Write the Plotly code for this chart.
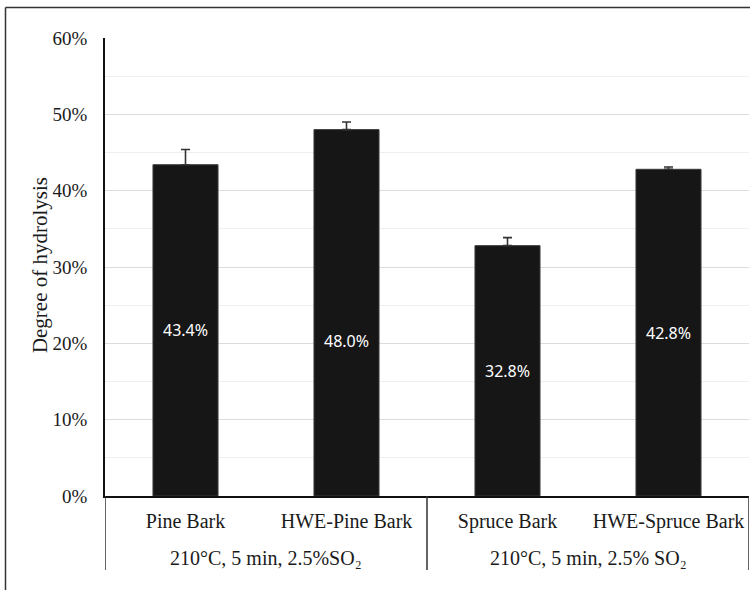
import plotly.graph_objects as go

# Samples and their enzymatic hydrolysis results
samples = ["Pine Bark", "HWE-Pine Bark", "Spruce Bark", "HWE-Spruce Bark"]
conditions = ["210°C, 5 min, 2.5%SO₂", "210°C, 5 min, 2.5% SO₂"]
hydrolysis = [0.434, 0.480, 0.328, 0.428]
hydrolysis_err = [0.020, 0.010, 0.0105, 0.003]

serif = "Liberation Serif, Times New Roman, serif"
ink = "#1a1a1a"

fig = go.Figure()
fig.add_trace(go.Bar(
    x=samples,
    y=hydrolysis,
    width=0.404,
    marker=dict(color="#161616", line=dict(color="#3c3c3c", width=1)),
    error_y=dict(
        type="data", symmetric=False,
        array=hydrolysis_err, arrayminus=[0] * len(hydrolysis_err),
        color="#333333", thickness=1.6, width=4.5,
    ),
    hoverinfo="skip",
))

# value labels in the middle of each bar (second one sits a bit lower)
label_shift = [0, -28, 0, 0]
for s, v, dy in zip(samples, hydrolysis, label_shift):
    fig.add_annotation(
        x=s, y=v / 2, xref="x", yref="y", yshift=dy,
        text=f"{v * 100:.1f}%", showarrow=False,
        font=dict(family="Noto Sans, sans-serif", size=16, color="white"),
    )

# second level of the category axis: pretreatment conditions
for i, c in enumerate(conditions):
    fig.add_annotation(
        x=2 * i + 0.5, y=-0.1354, xref="x", yref="paper",
        text=c, showarrow=False, xanchor="center", yanchor="middle",
        font=dict(family=serif, size=20, color=ink),
    )

# group dividers below the axis
for xd in [-0.5, 1.5, 3.5]:
    fig.add_shape(
        type="line", xref="x", yref="paper",
        x0=xd, x1=xd, y0=0, y1=-0.1616,
        line=dict(color="#333333", width=1.5),
    )

# y axis title
fig.add_annotation(
    x=-0.101, y=0.504, xref="paper", yref="paper",
    xanchor="center", yanchor="middle",
    text="Degree of hydrolysis", textangle=-90, showarrow=False,
    font=dict(family=serif, size=21, color=ink),
)

# frame around the chart: left and top edges only
frame = dict(color="#333333", width=1.5)
fig.add_shape(type="line", xref="paper", yref="paper",
              x0=-0.1545, x1=-0.1545, y0=-0.3, y1=1.0666, line=frame)
fig.add_shape(type="line", xref="paper", yref="paper",
              x0=-0.1545, x1=1.05, y0=1.0666, y1=1.0666, line=frame)

fig.update_layout(
    width=750, height=590,
    margin=dict(l=105, r=1, t=38, b=94),
    paper_bgcolor="white", plot_bgcolor="white",
    showlegend=False,
    bargap=0.6,
)
fig.update_xaxes(
    type="category", range=[-0.5, 3.5],
    showline=True, linecolor="#111111", linewidth=2,
    ticks="", showgrid=False,
    tickfont=dict(family=serif, size=20, color=ink),
    ticklabelstandoff=6,
)
fig.update_yaxes(
    range=[0, 0.6], dtick=0.1, tickformat=".0%",
    showline=True, linecolor="#111111", linewidth=1.5,
    ticks="", gridcolor="#dcdcdc", gridwidth=1,
    minor=dict(dtick=0.05, showgrid=True, gridcolor="#efefef", gridwidth=1),
    zeroline=False,
    tickfont=dict(family=serif, size=19, color=ink),
    ticklabelstandoff=12,
)

fig.write_html("out.html")
